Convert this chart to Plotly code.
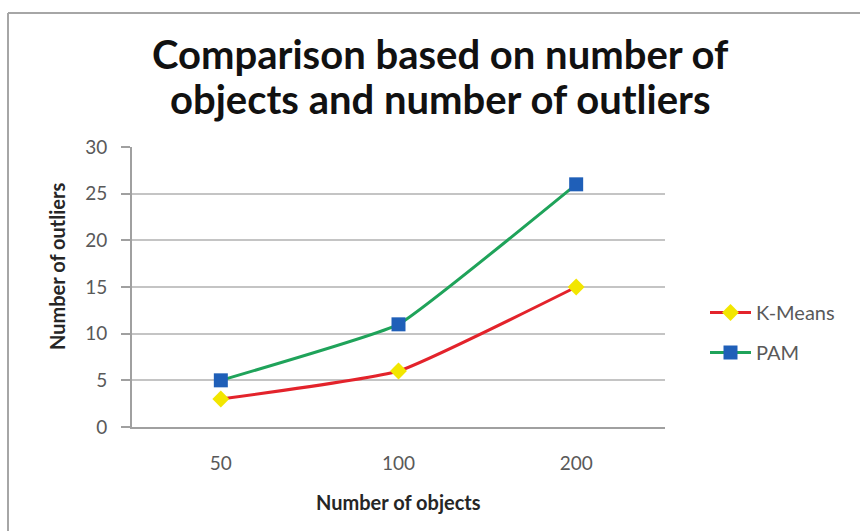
import plotly.graph_objects as go

# Data
objects = ["50", "100", "200"]
kmeans_outliers = [3, 6, 15]
pam_outliers = [5, 11, 26]
y_ticks = [0, 5, 10, 15, 20, 25, 30]
title_lines = ["Comparison based on number of", "objects and number of outliers"]

# Plot area in pixels
W, H = 860, 531
L, R, T, B = 132, 665, 147, 427

def px_x(px):
    return (px - L) / (R - L)

def px_y(py):
    return (B - py) / (B - T)

FONT = "Lato"
TICK_COLOR = "#595959"
TITLE_COLOR = "#262626"

fig = go.Figure()

fig.add_trace(go.Scatter(
    x=objects, y=kmeans_outliers, name="K-Means", mode="lines+markers",
    line=dict(color="#e3232b", width=3, shape="spline", smoothing=0.4),
    marker=dict(symbol="diamond", size=13, color="#f2e600"),
    legendgroup="a",
))
fig.add_trace(go.Scatter(
    x=objects, y=pam_outliers, name="PAM", mode="lines+markers",
    line=dict(color="#1fa35a", width=3, shape="spline", smoothing=0.3),
    marker=dict(symbol="square", size=14, color="#1f5fb8"),
    legendgroup="b",
))

# Chart-area frame (top and left edges)
frame = dict(color="#a6a6a6", width=2)
fig.add_shape(type="line", xref="paper", yref="paper",
              x0=px_x(8), x1=px_x(870), y0=px_y(13), y1=px_y(13), line=frame)
fig.add_shape(type="line", xref="paper", yref="paper",
              x0=px_x(8), x1=px_x(8), y0=px_y(13), y1=px_y(540), line=frame)

# Two-line chart title
for text, cy in zip(title_lines, [54, 99]):
    fig.add_annotation(
        text=text, xref="paper", yref="paper", x=px_x(440), y=px_y(cy),
        xanchor="center", yanchor="middle", showarrow=False,
        font=dict(family=FONT, size=40, color="#111111", weight="bold"),
    )

# Axis titles
fig.add_annotation(
    text="Number of outliers", xref="paper", yref="paper",
    x=px_x(57), y=px_y(267), xanchor="center", yanchor="middle",
    textangle=-90, showarrow=False,
    font=dict(family=FONT, size=20, color=TITLE_COLOR, weight="bold"),
)
fig.add_annotation(
    text="Number of objects", xref="paper", yref="paper",
    x=px_x(398), y=px_y(502), xanchor="center", yanchor="middle",
    showarrow=False,
    font=dict(family=FONT, size=20, color=TITLE_COLOR, weight="bold"),
)

fig.update_layout(
    width=W, height=H,
    margin=dict(l=L, r=W - R, t=T, b=H - B),
    paper_bgcolor="white", plot_bgcolor="white",
    showlegend=True,
    legend=dict(
        x=px_x(705), y=px_y(293), xanchor="left", yanchor="top",
        font=dict(family=FONT, size=20, color=TICK_COLOR),
        tracegroupgap=11, itemwidth=41, bgcolor="rgba(0,0,0,0)",
    ),
    font=dict(family=FONT, color=TICK_COLOR),
)

fig.update_xaxes(
    type="category", range=[-0.5, 2.5],
    showgrid=False, showline=True, linecolor="#a0a0a0", linewidth=2,
    ticks="", ticklabelstandoff=18,
    tickfont=dict(family=FONT, size=19, color=TICK_COLOR),
    fixedrange=True,
)
fig.update_yaxes(
    range=[0, 30], tickvals=y_ticks,
    showgrid=True, gridcolor="#c4c4c4", gridwidth=2,
    showline=True, linecolor="#a0a0a0", linewidth=2,
    ticks="outside", ticklen=9, tickcolor="#a0a0a0", tickwidth=2,
    ticklabelstandoff=10,
    tickfont=dict(family=FONT, size=19, color=TICK_COLOR),
    zeroline=False, fixedrange=True,
)

fig.write_html("out.html")
